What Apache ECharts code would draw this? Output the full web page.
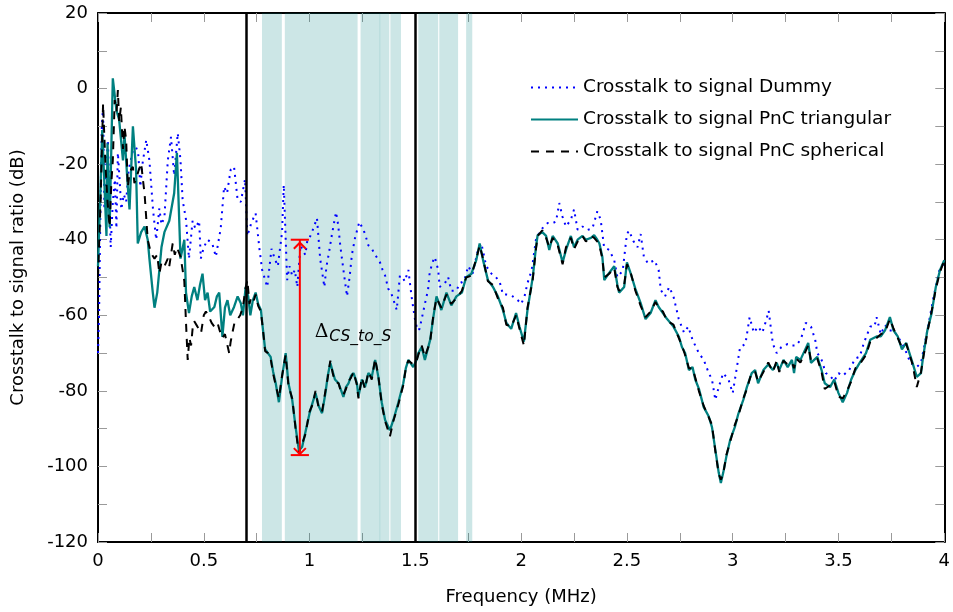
<!DOCTYPE html>
<html><head><meta charset="utf-8">
<script src="https://cdn.jsdelivr.net/npm/echarts@6/dist/echarts.min.js"></script>
<style>html,body{margin:0;padding:0;background:#fff}#c{width:953px;height:612px}</style>
</head><body><div id="c"></div>
<script>
// ---------- data ----------
const seriesNames = ['Crosstalk to signal Dummy', 'Crosstalk to signal PnC triangular', 'Crosstalk to signal PnC spherical'];

const dummyF = [0,0.005,0.012,0.018,0.024,0.03,0.038,0.047,0.06,0.07,0.08,0.087,0.094,0.103,0.11,0.122,0.133,0.145,0.165,0.18,0.19,0.195,0.2,0.21,0.228,0.243,0.26,0.275,0.29,0.3,0.314,0.33,0.345,0.36,0.377,0.39,0.4,0.416,0.43,0.447,0.46,0.478,0.486,0.5,0.518,0.54,0.557,0.58,0.596,0.61,0.627,0.643,0.66,0.675,0.685,0.695,0.706,0.725,0.745,0.763,0.776,0.8,0.82,0.835,0.85,0.87,0.878,0.894,0.905,0.918,0.93,0.942,0.957,0.97,0.98,0.99,1.0,1.018,1.035,1.05,1.07,1.08,1.09,1.106,1.125,1.135,1.145,1.16,1.177,1.19,1.2,1.215,1.235,1.255,1.265,1.278,1.294,1.31,1.333,1.345,1.357,1.372,1.385,1.396,1.412,1.427,1.44,1.45,1.467,1.482,1.498,1.51,1.52,1.545,1.56,1.568,1.585,1.592,1.608,1.615,1.64,1.655,1.67,1.694,1.71,1.73,1.75,1.77,1.796,1.812,1.835,1.86,1.88,1.898,1.914,1.93,1.96,1.984,2.0,2.016,2.03,2.05,2.07,2.086,2.1,2.125,2.149,2.165,2.18,2.196,2.212,2.235,2.25,2.267,2.29,2.314,2.337,2.36,2.376,2.392,2.416,2.44,2.455,2.48,2.5,2.51,2.53,2.55,2.565,2.58,2.6,2.63,2.65,2.66,2.68,2.7,2.72,2.745,2.77,2.79,2.81,2.84,2.863,2.887,2.902,2.918,2.934,2.955,2.98,3.0,3.02,3.035,3.06,3.08,3.1,3.12,3.14,3.16,3.17,3.19,3.208,3.23,3.26,3.28,3.3,3.32,3.33,3.345,3.37,3.39,3.4,3.42,3.44,3.46,3.48,3.5,3.52,3.55,3.58,3.6,3.62,3.65,3.67,3.68,3.7,3.72,3.74,3.76,3.78,3.81,3.84,3.87,3.89,3.92,3.95,3.98,4.0];
const dummyDb = [-70,-60,-30,-10,-5,-32,-22,-13.6,-42,-30,-24,-37,-17,-25,-32,-28,-30,-21.5,-16.4,-15.6,-17,-21.5,-26,-20,-13.6,-19,-32,-40,-31.7,-36,-34,-19,-12.8,-23,-11.8,-19,-29.5,-34.7,-45,-35,-37,-35,-45,-42,-40,-41,-44.5,-37,-26,-27.7,-21.5,-20.7,-29.5,-30,-27,-24,-39,-35.5,-33,-42.4,-48,-52.5,-42.4,-45,-47,-38,-25.5,-50.7,-47,-49.5,-48,-52.5,-41.5,-43,-44,-40,-39.5,-37,-34.3,-45,-52.5,-47,-44,-38.5,-32.7,-36,-41.5,-48,-55,-49.5,-44,-39.5,-35.3,-37.4,-39,-41.5,-42.4,-44,-46,-48,-49.5,-53,-54,-55.8,-58.6,-49.5,-50,-51,-48,-55,-61,-64,-63.6,-57,-53.3,-48.5,-45.4,-44.6,-48,-52.5,-51.5,-49.9,-53.5,-53.5,-51.5,-51,-47,-49,-42.7,-41,-47,-49,-49.9,-51,-54.5,-54.5,-55,-56,-57,-55,-51.5,-48,-40,-38.2,-37,-35.6,-35.6,-35.2,-30.3,-34,-36.5,-34.7,-32,-37.4,-36.5,-37.4,-37,-32.5,-34.7,-42,-42.7,-45.4,-49.9,-48.2,-38.5,-37.6,-40.3,-42,-38.5,-44.5,-46.3,-45.4,-48,-53.3,-55,-52.5,-55,-61,-64.6,-63,-66.5,-70,-71.8,-75.3,-77,-82.4,-79,-75.3,-77,-80.6,-73.7,-68.4,-67.6,-60.5,-64.6,-63,-64.6,-61,-58.8,-67.6,-70,-68.4,-67.6,-68,-68,-66.5,-65,-62,-63,-66.5,-70,-71.8,-75.3,-76,-77.4,-75.3,-76,-74.5,-71.4,-71,-67.3,-63,-63,-60.5,-65,-62.6,-64,-64,-65.6,-68.4,-72.6,-73.7,-72.6,-64,-55,-47.3,-46.4];

const triF = [0,0.01,0.02,0.03,0.04,0.045,0.055,0.07,0.087,0.1,0.118,0.125,0.141,0.149,0.165,0.18,0.188,0.204,0.22,0.235,0.243,0.259,0.267,0.28,0.3,0.314,0.337,0.36,0.373,0.385,0.39,0.408,0.416,0.43,0.443,0.455,0.47,0.482,0.494,0.506,0.518,0.53,0.55,0.562,0.573,0.588,0.6,0.612,0.625,0.643,0.66,0.675,0.685,0.698,0.71,0.72,0.732,0.745,0.757,0.77,0.78,0.79,0.803,0.816,0.828,0.84,0.855,0.87,0.887,0.9,0.918,0.934,0.949,0.965,0.98,1.0,1.015,1.028,1.043,1.059,1.075,1.086,1.098,1.11,1.12,1.137,1.15,1.16,1.172,1.184,1.196,1.208,1.224,1.231,1.247,1.262,1.278,1.294,1.31,1.325,1.341,1.357,1.38,1.396,1.42,1.443,1.455,1.467,1.49,1.506,1.514,1.53,1.545,1.57,1.585,1.6,1.623,1.647,1.67,1.694,1.72,1.74,1.765,1.788,1.804,1.82,1.843,1.867,1.89,1.914,1.93,1.953,1.976,1.992,2.013,2.03,2.055,2.07,2.078,2.1,2.118,2.133,2.149,2.173,2.196,2.212,2.235,2.25,2.267,2.29,2.306,2.33,2.345,2.36,2.37,2.384,2.393,2.416,2.44,2.455,2.463,2.487,2.5,2.517,2.54,2.565,2.588,2.612,2.635,2.65,2.67,2.69,2.72,2.745,2.76,2.775,2.793,2.81,2.823,2.84,2.863,2.887,2.902,2.918,2.934,2.944,2.955,2.97,2.988,3.01,3.027,3.05,3.067,3.09,3.106,3.12,3.145,3.168,3.19,3.208,3.22,3.24,3.26,3.28,3.29,3.3,3.32,3.357,3.37,3.4,3.42,3.435,3.46,3.48,3.5,3.52,3.54,3.56,3.58,3.6,3.63,3.65,3.68,3.7,3.72,3.743,3.76,3.78,3.8,3.82,3.85,3.87,3.89,3.9,3.92,3.94,3.96,3.98,4.0];
const triDb = [-47,-30,-11,-25,-39,-14.5,-36.7,2.7,-5.7,-8.3,-19,-12,-26,-32,-10,-21.5,-41,-38,-36.5,-40,-45,-54,-58,-54,-42,-38,-35,-27.7,-17,-36.6,-45,-40,-54,-59.4,-55,-52.5,-56,-52,-49,-56,-54,-59,-57.8,-55,-54,-65.7,-58,-56,-60,-57.8,-55,-56.8,-60,-52.5,-55,-60,-56,-54,-57,-58.6,-64,-69,-70,-71,-75,-78,-83,-76.3,-70,-78,-82.4,-89.6,-95.6,-94.8,-91,-85.9,-83,-80.6,-84,-85.9,-80.6,-76,-72.6,-75,-77,-78,-80,-81.6,-79,-78,-76,-75.3,-78,-81.6,-77,-79,-75.3,-76.3,-71.8,-76.3,-83,-87.7,-90.4,-87.7,-83,-78,-74,-71.8,-73.7,-71.8,-70,-68.4,-71.8,-66.5,-60.5,-55,-58.6,-54,-57.4,-55,-54,-49.9,-49,-45.4,-41,-45.4,-50.7,-52.5,-55,-58.6,-62,-63.6,-59.4,-63,-67,-58.6,-49.9,-42,-38.8,-38,-39,-42.7,-39,-41,-46,-42.7,-39,-42,-40,-39,-40,-39.5,-38.8,-40,-41,-44.6,-50.7,-48.8,-47,-52,-54,-52.5,-46,-48.8,-53,-56.8,-61,-59.4,-56,-57.8,-59.4,-61,-63,-65.6,-68.4,-70,-74.5,-73.7,-77,-79.4,-84.3,-86.8,-89.6,-95.6,-101.7,-104.4,-101.7,-97.4,-93,-89.6,-86,-82.4,-79,-75.3,-74.5,-78,-74.5,-73,-74.5,-72.6,-74.5,-71.8,-73.7,-71.8,-75.3,-71,-71.8,-67.3,-72.6,-71,-74.5,-78,-79,-77,-80.6,-83,-80.6,-77,-74.5,-72.6,-70,-66.5,-65.6,-65.6,-64,-60.5,-64,-65.6,-69,-67.3,-72.6,-76.3,-75.3,-71,-64,-59.5,-52.5,-48,-45.4];

const sphF = [0,0.012,0.024,0.035,0.045,0.055,0.063,0.07,0.079,0.088,0.094,0.1,0.108,0.118,0.125,0.133,0.141,0.15,0.165,0.172,0.18,0.19,0.204,0.212,0.22,0.235,0.25,0.267,0.28,0.29,0.3,0.314,0.33,0.337,0.353,0.363,0.373,0.39,0.4,0.408,0.416,0.424,0.432,0.44,0.448,0.455,0.47,0.487,0.5,0.51,0.525,0.537,0.55,0.565,0.575,0.588,0.6,0.612,0.62,0.627,0.635,0.645,0.66,0.672,0.685,0.697,0.706,0.716,0.725,0.737,0.745,0.757,0.77,0.78,0.79,0.803,0.816,0.828,0.84,0.855,0.87,0.887,0.9,0.918,0.934,0.949,0.965,0.98,1.0,1.015,1.028,1.043,1.059,1.075,1.086,1.098,1.11,1.12,1.137,1.15,1.16,1.172,1.184,1.196,1.208,1.224,1.231,1.247,1.262,1.278,1.294,1.31,1.325,1.341,1.357,1.38,1.396,1.42,1.443,1.455,1.467,1.49,1.506,1.514,1.53,1.545,1.57,1.585,1.6,1.623,1.647,1.67,1.694,1.72,1.74,1.765,1.788,1.804,1.82,1.843,1.867,1.89,1.914,1.93,1.953,1.976,1.992,2.013,2.03,2.055,2.07,2.078,2.1,2.118,2.133,2.149,2.173,2.196,2.212,2.235,2.25,2.267,2.29,2.306,2.33,2.345,2.36,2.37,2.384,2.393,2.416,2.44,2.455,2.463,2.487,2.5,2.517,2.54,2.565,2.588,2.612,2.635,2.65,2.67,2.69,2.72,2.745,2.76,2.775,2.793,2.81,2.823,2.84,2.863,2.887,2.902,2.918,2.934,2.944,2.955,2.97,2.988,3.01,3.027,3.05,3.067,3.09,3.106,3.12,3.145,3.168,3.19,3.208,3.22,3.24,3.26,3.28,3.29,3.3,3.32,3.357,3.37,3.4,3.42,3.435,3.46,3.48,3.5,3.52,3.54,3.56,3.58,3.6,3.63,3.65,3.68,3.7,3.72,3.743,3.76,3.78,3.8,3.82,3.85,3.87,3.89,3.9,3.92,3.94,3.96,3.98,4.0];
const sphDb = [-50,-30,-4,-20,-30,-36.6,-25,-19,-3,-6,-0.4,-8.8,-5,-16,-10,-13.6,-26,-22,-20.7,-25,-24,-22,-19.7,-24,-27.7,-40,-43.5,-45,-44,-49,-46,-47,-45,-47,-41,-44,-42,-44.5,-48,-51,-62,-71.8,-66,-68,-63,-61.6,-63,-64.7,-60,-59,-60.5,-62,-63,-62,-64,-66,-65,-68,-70,-67,-64.7,-62,-61,-60,-57.8,-53,-50.7,-57,-55,-56,-54.5,-57.5,-59,-64,-69.5,-70,-71.5,-75.5,-78.5,-82,-76,-70.5,-78.5,-82,-90,-96.5,-94,-91.5,-85.5,-83.5,-80,-84.5,-85.5,-80,-76.5,-72,-75.5,-77.5,-78,-80.5,-81,-79.5,-77.5,-76.5,-75,-78.5,-82,-76.5,-79.5,-75,-77,-71.5,-76,-83.5,-88,-92,-88,-83.5,-78.5,-74,-72,-73,-72,-70.5,-68,-71,-67,-60,-55.5,-58,-54.5,-57,-55.5,-53.5,-50,-49.5,-45,-41.5,-45,-51,-52,-55.5,-58,-62.5,-63,-60,-63.5,-68,-58,-50.5,-42.5,-39,-37.5,-39.5,-42,-39.5,-41.5,-46.5,-42,-39.5,-42.5,-40.5,-39,-40.5,-39,-39.5,-40.5,-41.5,-45,-50,-49,-47.5,-52.5,-53.5,-52,-46.5,-48.5,-53.5,-57.5,-60.5,-59,-56.5,-58,-59,-61.5,-62.5,-66,-68,-70.5,-74,-74,-76.5,-80,-84,-87,-89,-96,-102,-103.5,-102,-97,-93.5,-89,-86.5,-82,-79.5,-75,-75,-77.5,-75,-72.5,-75,-72,-75,-72,-73,-72.5,-74,-71.5,-72.5,-68,-72,-71.5,-75,-79.5,-78.5,-77.5,-81.5,-82,-80,-77.5,-74,-73,-70.5,-67,-66,-65,-64.5,-61,-63.5,-66,-68.5,-67.5,-73,-79,-75,-71.5,-64.5,-59,-53,-48.5,-45.5];

// shaded frequency bands (MHz) and boundary markers
const bandStart = [0.775, 0.883, 1.241, 1.331, 1.382, 1.514, 1.613, 1.74];
const bandEnd   = [0.869, 1.227, 1.334, 1.377, 1.432, 1.608, 1.702, 1.769];
const boundaryF = [0.7, 1.5];
// delta annotation: [freq, low dB, high dB, half bar width]
const deltaArrow = [[0.954, -97, -40, 0.043]];
const deltaLabel = [[1.024, -65]];

// ---------- chart ----------
const FONT = 'DejaVu Sans';
const zip = (a, b) => a.map((v, i) => [v, b[i]]);
const chart = echarts.init(document.getElementById('c'), null, {renderer: 'canvas'});

const tickStyle = {color: '#9a9a9a', width: 1};
const axisLineStyle = {color: '#000', width: 2};

chart.setOption({
  animation: false,
  backgroundColor: '#fff',
  grid: {left: 98, right: 5, top: 13, bottom: 70, containLabel: false},
  legend: {
    orient: 'vertical', left: 525, top: 73,
    itemWidth: 47, itemHeight: 14, itemGap: 13,
    itemStyle: {opacity: 0},
    textStyle: {fontFamily: FONT, fontSize: 18.5, color: '#000'},
    data: seriesNames
  },
  xAxis: [{
    type: 'value', min: 0, max: 4, interval: 0.5, position: 'bottom',
    axisLine: {show: true, onZero: false, lineStyle: axisLineStyle},
    axisTick: {show: true, inside: true, length: 9, lineStyle: tickStyle},
    minorTick: {show: true, splitNumber: 2, length: 9, lineStyle: tickStyle},
    axisLabel: {color: '#000', fontFamily: FONT, fontSize: 18, margin: 10},
    splitLine: {show: false},
    name: 'Frequency (MHz)', nameLocation: 'middle', nameGap: 46,
    nameTextStyle: {color: '#000', fontFamily: FONT, fontSize: 18}
  }, {
    type: 'value', min: 0, max: 4, interval: 0.5, position: 'top',
    axisLine: {show: true, onZero: false, lineStyle: axisLineStyle},
    axisTick: {show: true, inside: true, length: 9, lineStyle: tickStyle},
    minorTick: {show: true, splitNumber: 2, length: 9, lineStyle: tickStyle},
    axisLabel: {show: false}, splitLine: {show: false}
  }],
  yAxis: [{
    type: 'value', min: -120, max: 20, interval: 20, position: 'left',
    axisLine: {show: true, onZero: false, lineStyle: axisLineStyle},
    axisTick: {show: true, inside: true, length: 9, lineStyle: tickStyle},
    minorTick: {show: true, splitNumber: 2, length: 9, lineStyle: tickStyle},
    axisLabel: {color: '#000', fontFamily: FONT, fontSize: 18, margin: 10},
    splitLine: {show: false},
    name: 'Crosstalk to signal ratio (dB)', nameLocation: 'middle', nameGap: 71,
    nameTextStyle: {color: '#000', fontFamily: FONT, fontSize: 18}
  }, {
    type: 'value', min: -120, max: 20, interval: 20, position: 'right',
    axisLine: {show: true, onZero: false, lineStyle: axisLineStyle},
    axisTick: {show: true, inside: true, length: 9, lineStyle: tickStyle},
    minorTick: {show: true, splitNumber: 2, length: 9, lineStyle: tickStyle},
    axisLabel: {show: false}, splitLine: {show: false}
  }],
  series: [
    {
      name: 'bands', type: 'line', data: [], z: 1, silent: true,
      markArea: {
        silent: true,
        itemStyle: {color: 'rgba(0,128,128,0.2)'},
        data: bandStart.map((s, i) => [{xAxis: s}, {xAxis: bandEnd[i]}])
      },
      markLine: {
        silent: true, symbol: 'none', animation: false,
        label: {show: false},
        lineStyle: {color: '#000', width: 2.5, type: 'solid'},
        data: boundaryF.map(f => ({xAxis: f}))
      }
    },
    {
      name: seriesNames[0], type: 'line', data: zip(dummyF, dummyDb), z: 3,
      symbol: 'none', showSymbol: false,
      itemStyle: {color: '#0000ff'},
      lineStyle: {color: '#0000ff', width: 2, type: [2, 5]}
    },
    {
      name: seriesNames[1], type: 'line', data: zip(triF, triDb), z: 4,
      symbol: 'none', showSymbol: false,
      itemStyle: {color: '#008080'},
      lineStyle: {color: '#008080', width: 2.3}
    },
    {
      name: seriesNames[2], type: 'line', data: zip(sphF, sphDb), z: 5,
      symbol: 'none', showSymbol: false,
      itemStyle: {color: '#000'},
      lineStyle: {color: '#000', width: 2, type: [8, 7]}
    },
    {
      name: 'delta', type: 'custom', data: deltaArrow, z: 6, silent: true,
      renderItem: function (params, api) {
        const f = api.value(0), lo = api.value(1), hi = api.value(2), hw = api.value(3);
        const pLo = api.coord([f, lo]), pHi = api.coord([f, hi]);
        const tL = api.coord([f - hw, hi]), tR = api.coord([f + hw, hi]);
        const bL = api.coord([f - hw, lo]), bR = api.coord([f + hw, lo]);
        const s = {stroke: '#ff0000', lineWidth: 2, fill: null};
        const a = 6;
        return {type: 'group', children: [
          {type: 'line', shape: {x1: pLo[0], y1: pLo[1], x2: pHi[0], y2: pHi[1]}, style: s},
          {type: 'line', shape: {x1: tL[0], y1: tL[1], x2: tR[0], y2: tR[1]}, style: s},
          {type: 'line', shape: {x1: bL[0], y1: bL[1], x2: bR[0], y2: bR[1]}, style: s},
          {type: 'polyline', shape: {points: [[pHi[0] - a, pHi[1] + a + 3], [pHi[0], pHi[1] + 3], [pHi[0] + a, pHi[1] + a + 3]]}, style: s},
          {type: 'polyline', shape: {points: [[pLo[0] - a, pLo[1] - a - 1], [pLo[0], pLo[1] - 1], [pLo[0] + a, pLo[1] - a - 1]]}, style: s}
        ]};
      }
    },
    {
      name: 'deltaLabel', type: 'custom', data: deltaLabel, z: 6, silent: true,
      renderItem: function (params, api) {
        const p = api.coord([api.value(0), api.value(1)]);
        return {type: 'text', x: p[0], y: p[1], style: {
          text: '{d|Δ}{s|CS_to_S}', align: 'left', verticalAlign: 'middle',
          rich: {
            d: {fontFamily: 'DejaVu Serif', fontSize: 19, fill: '#000', color: '#000', padding: [0, 1, 4, 0]},
            s: {fontFamily: FONT, fontSize: 15.5, fontStyle: 'italic', fill: '#000', color: '#000', padding: [6, 0, 0, 0]}
          }
        }};
      }
    }
  ]
});
</script>
</body></html>
